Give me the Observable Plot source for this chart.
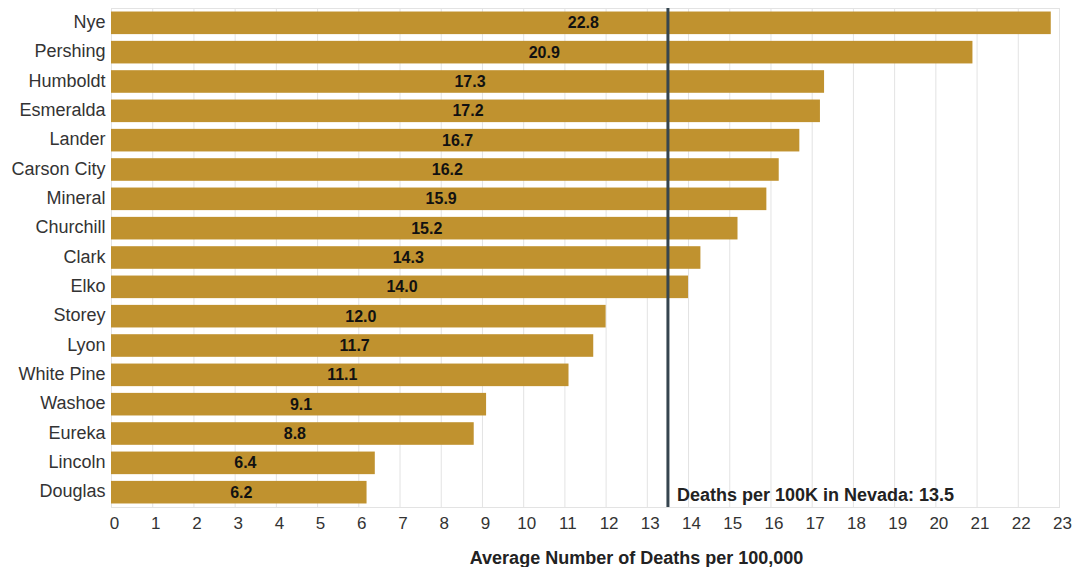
<!DOCTYPE html>
<html>
<head>
<meta charset="utf-8">
<script src="https://cdn.jsdelivr.net/npm/d3@7"></script>
<script src="https://cdn.jsdelivr.net/npm/@observablehq/plot@0.6"></script>
<style>
  html, body { margin: 0; padding: 0; background: #fff; }
  svg { font-family: "Liberation Sans", Arial, sans-serif; }
</style>
</head>
<body>
<div id="chart"></div>
<script>
const counties = ["Nye","Pershing","Humboldt","Esmeralda","Lander","Carson City","Mineral","Churchill","Clark","Elko","Storey","Lyon","White Pine","Washoe","Eureka","Lincoln","Douglas"];
const rates = [22.8,20.9,17.3,17.2,16.7,16.2,15.9,15.2,14.3,14.0,12.0,11.7,11.1,9.1,8.8,6.4,6.2];
const stateRate = 13.5;
const xTicks = d3.range(0, 24);
const refLabel = ["Deaths per 100K in Nevada: 13.5"];
const xLabel = "Average Number of Deaths per 100,000";

const data = counties.map((c, i) => ({county: c, rate: rates[i]}));
const lastCounty = counties[counties.length - 1];

const chart = Plot.plot({
  width: 1081,
  height: 567,
  marginLeft: 111,
  marginRight: 22,
  marginTop: 8,
  marginBottom: 60,
  style: {fontFamily: '"Liberation Sans", Arial, sans-serif', fontSize: "16px", color: "#333"},
  x: {domain: [0, 23], ticks: xTicks, label: null},
  y: {domain: counties, label: null, paddingInner: 0.23, paddingOuter: 0.12, round: false},
  marks: [
    Plot.gridX(xTicks, {stroke: "#e3e3e3", strokeOpacity: 1, strokeWidth: 1}),
    Plot.frame({stroke: "#e3e3e3"}),
    Plot.barX(data, {x: "rate", y: "county", fill: "#C0922F"}),
    Plot.text(data, {x: d => d.rate / 2, y: "county", text: d => d.rate.toFixed(1), fill: "#111", fontWeight: "bold", fontSize: 16, dx: 2}),
    Plot.ruleX([stateRate], {stroke: "#36454f", strokeWidth: 3}),
    Plot.text(refLabel, {x: () => stateRate, y: () => lastCounty, text: d => d, textAnchor: "start", dx: 9, dy: 3, fontWeight: "bold", fontSize: 18, fill: "#222"}),
    Plot.axisX(xTicks, {tickSize: 0, tickPadding: 9, fontSize: 17, fill: "#333", dx: 3, label: null}),
    Plot.axisY(counties, {tickSize: 0, tickPadding: 6, fontSize: 18, fill: "#333", dy: -1, label: null}),
    Plot.text([xLabel], {frameAnchor: "bottom", dy: 56, dx: 51, text: d => d, fontWeight: "bold", fontSize: 18, fill: "#222"})
  ]
});
document.getElementById("chart").appendChild(chart);
</script>
</body>
</html>
